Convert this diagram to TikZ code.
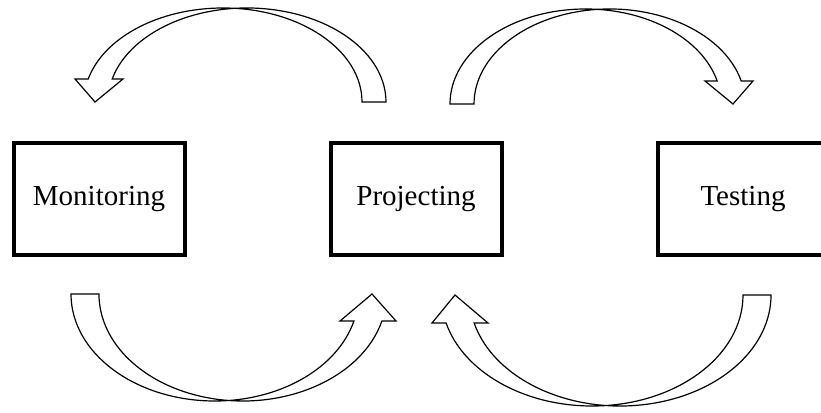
\documentclass[tikz,border=0pt]{standalone}
\usepackage{fontspec}
\setmainfont{Liberation Serif}
\usepackage{tikz}
\usetikzlibrary{positioning}
\tikzstyle{stage} = [rectangle, 
minimum width=171pt, 
minimum height=112pt,
text centered, 
draw=black, 
line width=4pt,
fill=white,
font=\fontsize{29}{35}\selectfont]
\tikzstyle{bigarrow} = [draw=black, 
line width=1.2pt, 
fill=white, 
line join=miter]

\begin{document}
\begin{tikzpicture}[x=1pt, y=1pt, node distance=317pt]
			
			\useasboundingbox (0,0) rectangle (821,412);
			\clip (0,0) rectangle (821,412);
			
			\node (mon) [stage] at (99,212.5) {Monitoring};
			\node (proj) [stage, right of=mon] {Projecting};
			\node (test) [stage, right of=proj, xshift=10pt] {Testing};
			
			% projecting -> monitoring (top)
			\draw [bigarrow] (362,310) arc[start angle=0, end angle=165.84, x radius=139, y radius=94]
			-- (75,333) -- (95,310) -- (123,333) -- (112.2,333)
			arc[start angle=165.84, end angle=0, x radius=139, y radius=94] -- cycle;
			
			% projecting -> testing (top)
			\draw [bigarrow] (450,308) arc[start angle=180, end angle=14.01, x radius=135.6, y radius=95]
			-- (705,331) -- (733,308) -- (753,331) -- (741.2,331)
			arc[start angle=14.01, end angle=180, x radius=135.6, y radius=95] -- cycle;
			
			% monitoring -> projecting (bottom)
			\draw [bigarrow] (71,118) arc[start angle=180, end angle=345.38, x radius=143.8, y radius=107]
			-- (340,91) -- (372,118) -- (396,91) -- (381.9,91)
			arc[start angle=345.38, end angle=180, x radius=143.8, y radius=107] -- cycle;
			
			% testing -> projecting (bottom)
			\draw [bigarrow] (743,117) arc[start angle=360, end angle=194.61, x radius=150.9, y radius=111]
			-- (432,89) -- (455,117) -- (488,89) -- (474.1,89)
			arc[start angle=194.61, end angle=360, x radius=150.9, y radius=111] -- cycle;
			
		\end{tikzpicture}
\end{document}
